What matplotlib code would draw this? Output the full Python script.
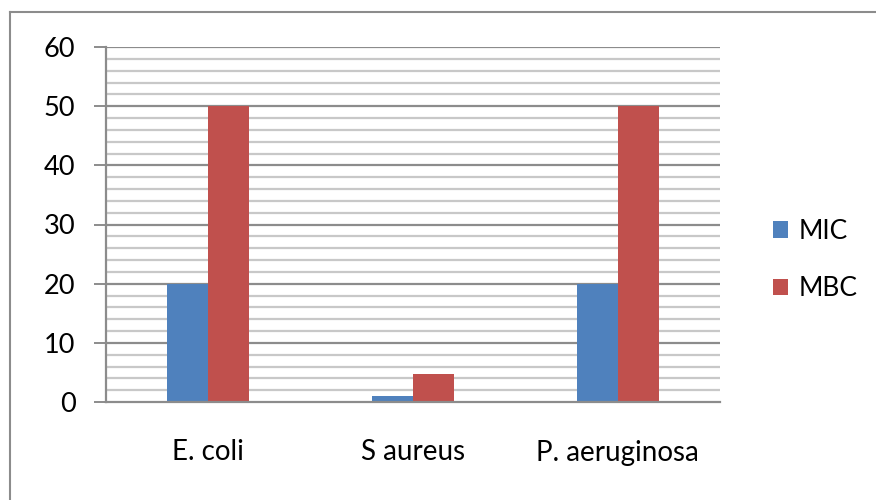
import matplotlib
matplotlib.use("Agg")
import matplotlib.pyplot as plt
from matplotlib.lines import Line2D
import numpy as np

plt.rcParams['font.family'] = ['Lato', 'DejaVu Sans']

organisms = ['E. coli', 'S aureus', 'P. aeruginosa']
mic = [20, 1, 20]
mbc = [50, 4.7, 50]

blue = '#4F81BD'
red = '#C0504D'

fig = plt.figure(figsize=(8.76, 5.0), dpi=100)
ax = fig.add_axes([106/876, 1 - 402/500, (720 - 106)/876, (402 - 47)/500])

x = np.arange(len(organisms))
w = 0.2
ax.bar(x - w/2, mic, w, color=blue, label='MIC', zorder=3)
ax.bar(x + w/2, mbc, w, color=red, label='MBC', zorder=3)

ax.set_xlim(-0.5, 2.5)
ax.set_ylim(0, 60)

# minor gridlines every 2, major every 10
for v in np.arange(2, 60, 2):
    if v % 10:
        ax.axhline(v, color='#c8c8c8', lw=1.6, zorder=1)
for v in np.arange(10, 61, 10):
    ax.axhline(v, color='#8c8c8c', lw=1.6, zorder=1)

ax.set_yticks(np.arange(0, 61, 10))
ax.set_xticks(x)
ax.set_xticklabels(organisms)
ax.tick_params(axis='y', length=9, width=1.4, color='#8c8c8c', pad=13, labelsize=19.5)
ax.tick_params(axis='x', length=0, pad=27, labelsize=20)
for s in ['top', 'right']:
    ax.spines[s].set_visible(False)
for s in ['left', 'bottom']:
    ax.spines[s].set_color('#8c8c8c')
    ax.spines[s].set_linewidth(1.6)
ax.spines['bottom'].set_zorder(4)

leg = fig.legend(loc='center left', bbox_to_anchor=(749/876, 1 - 260/500), frameon=False,
                 fontsize=19, handlelength=0.57, handleheight=0.57, handletextpad=0.4,
                 labelspacing=1.23)

# chart frame
fig.add_artist(Line2D([10/876, 10/876], [0, 1 - 12/500], color='#8c8c8c', lw=1.5))
fig.add_artist(Line2D([10/876, 1], [1 - 12/500, 1 - 12/500], color='#8c8c8c', lw=1.5))

fig.savefig('out.png', dpi=100)
